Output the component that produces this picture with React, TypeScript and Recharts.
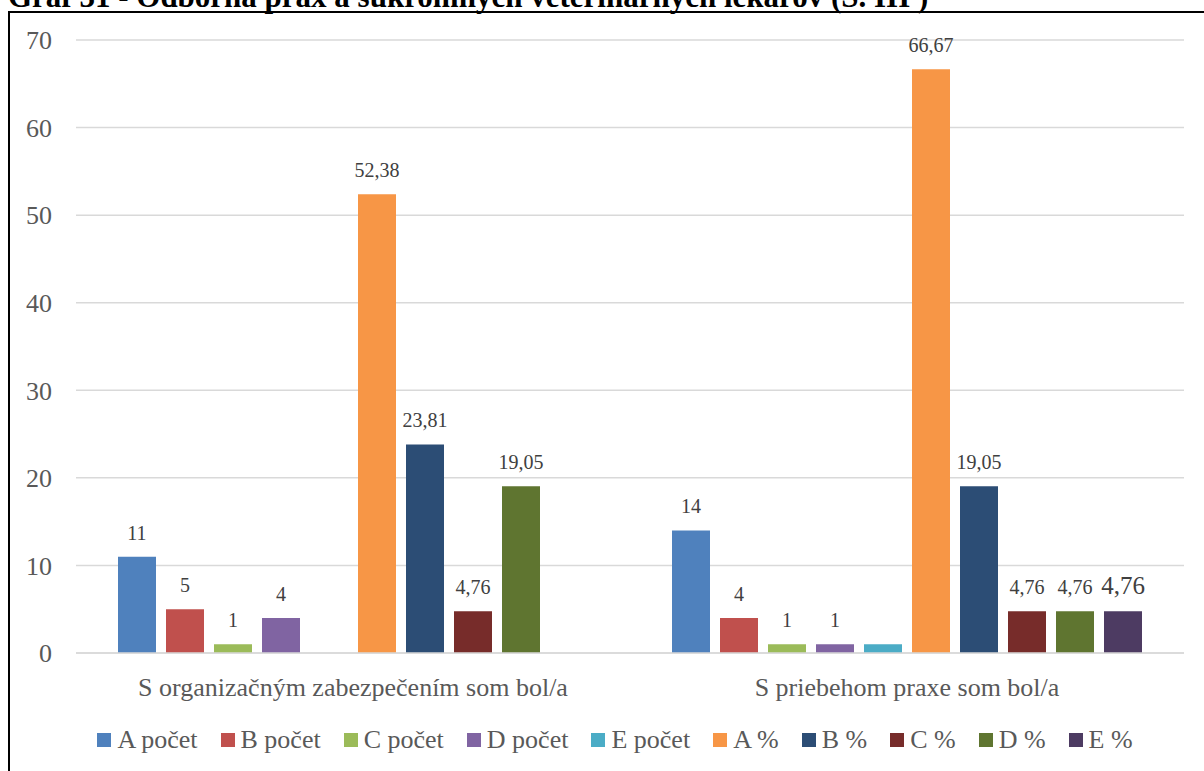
import React from 'react';
import { BarChart, Bar, XAxis, YAxis, CartesianGrid, LabelList } from 'recharts';

const categories = ['S organizačným zabezpečením som bol/a', 'S priebehom praxe som bol/a'];
const seriesNames = ['A počet', 'B počet', 'C počet', 'D počet', 'E počet', 'A %', 'B %', 'C %', 'D %', 'E %'];
const seriesColors = ['#4F81BD', '#C0504D', '#9BBB59', '#8064A2', '#4BACC6', '#F79646', '#2C4D75', '#772C2A', '#5F7530', '#4D3B62'];

const aPocet = [11, 14];
const bPocet = [5, 4];
const cPocet = [1, 1];
const dPocet = [4, 1];
const ePocet = [null, 1];
const aPct = [52.38, 66.67];
const bPct = [23.81, 19.05];
const cPct = [4.76, 4.76];
const dPct = [19.05, 4.76];
const ePct = [null, 4.76];

const seriesValues = [aPocet, bPocet, cPocet, dPocet, ePocet, aPct, bPct, cPct, dPct, ePct];
// E počet has no data labels in the original; E % labels are drawn a size larger
const labelSizes = [20, 20, 20, 20, 0, 20, 20, 20, 20, 25];

const yTicks = [0, 10, 20, 30, 40, 50, 60, 70];

const FONT = "'Liberation Serif', 'Times New Roman', serif";

const data = categories.map((name, i) => {
  const row: Record<string, any> = { name };
  seriesNames.forEach((s, k) => {
    row['s' + k] = seriesValues[k][i];
  });
  return row;
});

const fmt = (v: any) => (v == null ? '' : String(v).replace('.', ','));

const App: React.FC = () => {
  return (
    <div style={{ position: 'absolute', left: 0, top: 0, width: 1204, height: 771, overflow: 'hidden', background: '#fff' }}>
      <svg style={{ position: 'absolute', left: 0, top: 0 }} width={1204} height={20}>
        <text x={8} y={7} fontFamily={FONT} fontWeight="bold" fontSize={31} fill="#000">
          Graf 31 - Odborná prax a súkromných veterinárnych lekárov (S. III )
        </text>
      </svg>
      <div style={{ position: 'absolute', left: 8, top: 11, width: 1240, height: 800, border: '2px solid #000', boxSizing: 'border-box' }} />
      <div style={{ position: 'absolute', left: 0, top: 0 }}>
        <BarChart
          width={1204}
          height={771}
          data={data}
          margin={{ top: 40, right: 20, left: 0, bottom: 0 }}
          barCategoryGap={42}
          barGap={10}
        >
          <CartesianGrid vertical={false} stroke="#D9D9D9" strokeWidth={1.5} />
          <XAxis
            dataKey="name"
            height={118}
            axisLine={{ stroke: '#D9D9D9', strokeWidth: 1.5 }}
            tickLine={false}
            tickSize={0}
            tickMargin={25}
            tick={{ fill: '#595959', fontSize: 26, fontFamily: FONT }}
          />
          <YAxis
            width={76}
            domain={[0, 70]}
            ticks={yTicks}
            axisLine={false}
            tickLine={false}
            tickSize={0}
            tickMargin={24}
            tick={{ fill: '#595959', fontSize: 26, fontFamily: FONT }}
          />
          {seriesNames.map((s, k) => (
            <Bar key={s} dataKey={'s' + k} name={s} fill={seriesColors[k]} isAnimationActive={false}>
              {labelSizes[k] > 0 && (
                <LabelList
                  dataKey={'s' + k}
                  position="top"
                  offset={17}
                  formatter={fmt}
                  fill="#404040"
                  fontSize={labelSizes[k]}
                  fontFamily={FONT}
                />
              )}
            </Bar>
          ))}
        </BarChart>
      </div>
      <div
        style={{
          position: 'absolute',
          left: 0,
          top: 725,
          width: 1230,
          display: 'flex',
          justifyContent: 'center',
          alignItems: 'center',
          fontFamily: FONT,
          fontSize: 26,
          color: '#595959',
          whiteSpace: 'nowrap',
        }}
      >
        {seriesNames.map((s, k) => (
          <div key={s} style={{ display: 'flex', alignItems: 'center', marginRight: k < seriesNames.length - 1 ? 23 : 0 }}>
            <span style={{ display: 'inline-block', width: 14, height: 14, background: seriesColors[k], marginRight: 6 }} />
            <span>{s}</span>
          </div>
        ))}
      </div>
    </div>
  );
};

export default App;
